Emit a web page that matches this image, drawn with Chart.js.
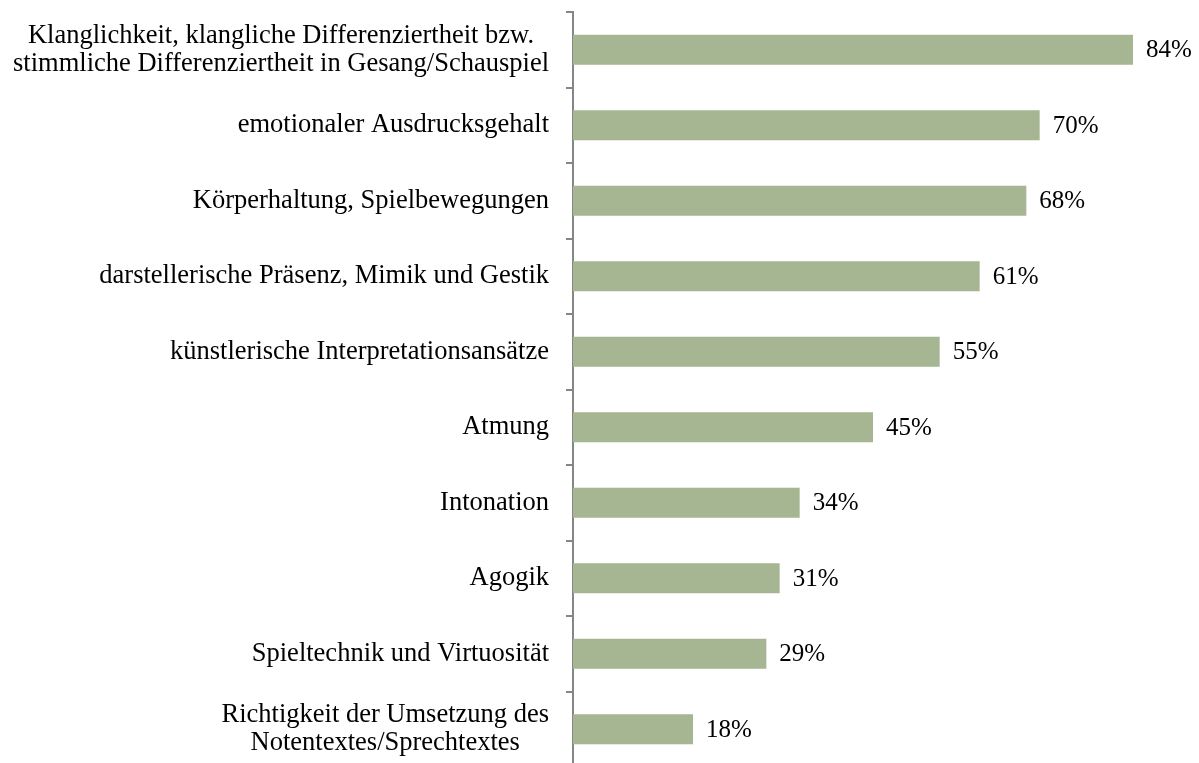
<!DOCTYPE html>
<html>
<head>
<meta charset="utf-8">
<script src="https://cdn.jsdelivr.net/npm/chart.js@4.4.0/dist/chart.umd.min.js"></script>
<style>
  html, body { margin: 0; padding: 0; background: #fff; overflow: hidden; }
  #wrap { position: relative; width: 1199px; height: 767px; }
</style>
</head>
<body>
<div id="wrap"><canvas id="chart"></canvas></div>
<script>
// Kategorien und Werte (Prozent)
const categories = [
  ['Klanglichkeit, klangliche Differenziertheit bzw.', 'stimmliche Differenziertheit in Gesang/Schauspiel'],
  'emotionaler Ausdrucksgehalt',
  'Körperhaltung, Spielbewegungen',
  'darstellerische Präsenz, Mimik und Gestik',
  'künstlerische Interpretationsansätze',
  'Atmung',
  'Intonation',
  'Agogik',
  'Spieltechnik und Virtuosität',
  ['Richtigkeit der Umsetzung des', 'Notentextes/Sprechtextes'],
];
const values = [84, 70, 68, 61, 55, 45, 34, 31, 29, 18];

const FONT = '"Liberation Serif", "Times New Roman", serif';

// Kategorienbeschriftung: Block rechtsbündig, Zeilen zentriert (wie in Excel)
const categoryLabels = {
  id: 'categoryLabels',
  afterDraw(chart) {
    const ctx = chart.ctx;
    const yScale = chart.scales.y;
    const right = yScale.right - 7 - 17;
    const lh = 28;
    ctx.save();
    ctx.font = '26.5px ' + FONT;
    ctx.fillStyle = '#000';
    ctx.textAlign = 'center';
    ctx.textBaseline = 'middle';
    categories.forEach((lab, i) => {
      const lines = Array.isArray(lab) ? lab : [lab];
      const w = Math.max(...lines.map(l => ctx.measureText(l).width));
      const cx = right - w / 2;
      const y0 = yScale.getPixelForTick(i) - (lines.length - 1) * lh / 2;
      lines.forEach((l, j) => ctx.fillText(l, cx, y0 + j * lh));
    });
    ctx.restore();
  }
};

// Wertbeschriftung rechts neben den Balken
const valueLabels = {
  id: 'valueLabels',
  afterDatasetsDraw(chart) {
    const ctx = chart.ctx;
    const meta = chart.getDatasetMeta(0);
    ctx.save();
    ctx.font = '25px ' + FONT;
    ctx.fillStyle = '#000';
    ctx.textAlign = 'left';
    ctx.textBaseline = 'middle';
    meta.data.forEach((bar, i) => {
      ctx.fillText(values[i] + '%', bar.x + 13, bar.y + 1);
    });
    ctx.restore();
  }
};

new Chart(document.getElementById('chart'), {
  type: 'bar',
  data: {
    labels: categories,
    datasets: [{
      data: values,
      backgroundColor: '#a6b592',
      borderWidth: 0,
      barPercentage: 0.4,
      categoryPercentage: 1.0,
    }],
  },
  options: {
    indexAxis: 'y',
    responsive: true, maintainAspectRatio: false, animation: false,
    layout: { padding: { top: 12, right: 26, bottom: 0, left: 0 } },
    plugins: { legend: { display: false }, tooltip: { enabled: false } },
    scales: {
      x: { display: false, min: 0, max: 90 },
      y: {
        afterFit: s => { s.width = 573; s.paddingTop = 0; s.paddingBottom = 0; },
        border: { display: true, color: '#868686', width: 2 },
        grid: { offset: true, drawOnChartArea: false, drawTicks: true, tickLength: 7, color: '#868686', lineWidth: 2 },
        ticks: { display: false },
      },
    },
  },
  plugins: [valueLabels, categoryLabels],
});
</script>
</body>
</html>
